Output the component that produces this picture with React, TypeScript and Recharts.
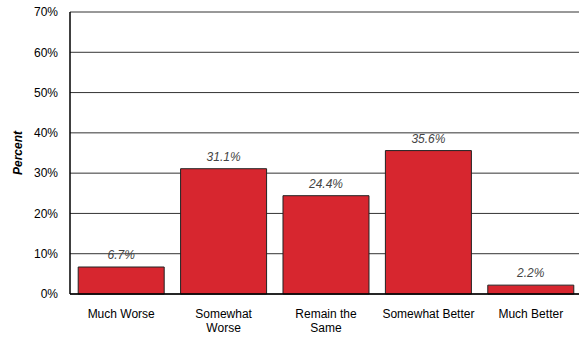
import React from "react";
import { BarChart, Bar, XAxis, YAxis, CartesianGrid, LabelList } from "recharts";

// categories and values
const categories = ["Much Worse", "Somewhat\nWorse", "Remain the\nSame", "Somewhat Better", "Much Better"];
const percents = [6.7, 31.1, 24.4, 35.6, 2.2];
const yTicks = [0, 10, 20, 30, 40, 50, 60, 70];

const data = categories.map((name, i) => ({ name, value: percents[i] }));

const FONT = "'Liberation Sans', Arial, sans-serif";

const CategoryTick = (props: any) => {
  const { x, y, payload } = props;
  const lines = String(payload.value).split("\n");
  return (
    <text x={x} y={y + 16} textAnchor="middle" fontSize={12} fill="#000" fontFamily={FONT}>
      {lines.map((l, i) => (
        <tspan key={i} x={x} dy={i === 0 ? 0 : 14}>
          {l}
        </tspan>
      ))}
    </text>
  );
};

const App = () => {
  return (
    <div style={{ position: "absolute", left: 0, top: 0, width: 579, height: 337, overflow: "hidden", background: "#fff" }}>
      <BarChart
        width={582}
        height={337}
        data={data}
        margin={{ top: 12, right: 0, bottom: 0, left: 0 }}
        barCategoryGap="8%"
      >
        <CartesianGrid horizontal vertical={false} stroke="#333" strokeWidth={1} />
        <XAxis
          dataKey="name"
          height={43}
          tickLine={false}
          axisLine={{ stroke: "#000", strokeWidth: 1.5 }}
          tick={<CategoryTick />}
          interval={0}
        />
        <YAxis
          width={70}
          domain={[0, 70]}
          ticks={yTicks}
          tickFormatter={(v: number) => `${v}%`}
          tickLine={false}
          tickMargin={6}
          axisLine={{ stroke: "#000", strokeWidth: 1.5 }}
          tick={{ fontSize: 12, fill: "#000", fontFamily: FONT }}
          label={{
            value: "Percent",
            angle: -90,
            position: "insideLeft",
            offset: 18,
            style: { fontSize: 12, fontWeight: "bold", fontStyle: "italic", fill: "#000", fontFamily: FONT, textAnchor: "middle" },
          }}
        />
        <Bar dataKey="value" fill="#d7262f" stroke="#222" strokeWidth={1} isAnimationActive={false}>
          <LabelList
            dataKey="value"
            position="top"
            offset={8}
            formatter={(v: number) => `${v.toFixed(1)}%`}
            style={{ fontSize: 12, fontStyle: "italic", fill: "#444", fontFamily: FONT }}
          />
        </Bar>
      </BarChart>
    </div>
  );
};

export default App;
